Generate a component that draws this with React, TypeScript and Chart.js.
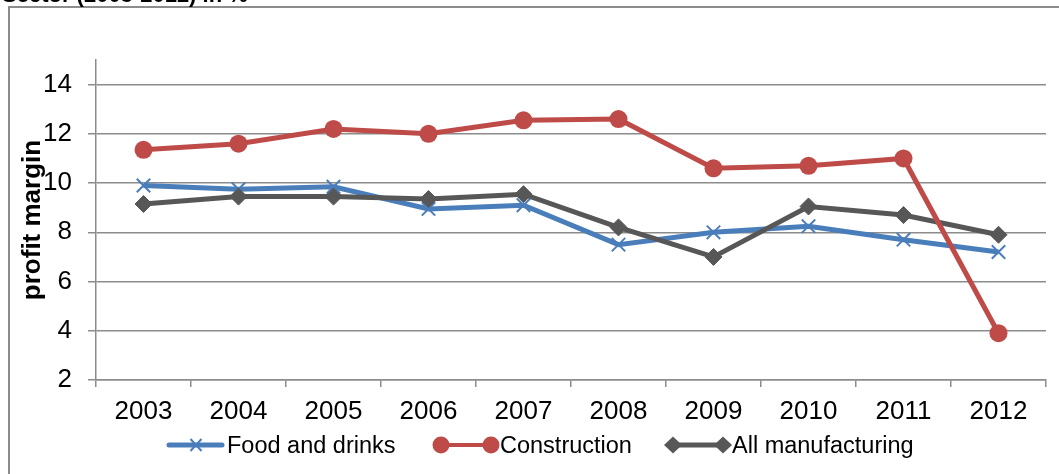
import React, { useEffect, useRef } from 'react';
import { Chart, registerables } from 'chart.js';

Chart.register(...registerables);

const years = ['2003', '2004', '2005', '2006', '2007', '2008', '2009', '2010', '2011', '2012'];
const foodDrinks = [9.9, 9.75, 9.85, 8.95, 9.1, 7.5, 8.0, 8.25, 7.7, 7.2];
const construction = [11.35, 11.6, 12.2, 12.0, 12.55, 12.6, 10.6, 10.7, 11.0, 3.9];
const allManufacturing = [9.15, 9.45, 9.45, 9.35, 9.55, 8.2, 7.0, 9.05, 8.7, 7.9];
const yTicks = [2, 4, 6, 8, 10, 12, 14];
const seriesNames = ['Food and drinks', 'Construction', 'All manufacturing'];
const yAxisTitle = 'profit margin';
const chartTitle = 'Sector (2003-2012) in %';

const FONT = '"Liberation Sans", Arial, sans-serif';
const GRID = '#8c8c8c';
const BLUE = '#4a7ebb';
const RED = '#be4b48';
const GRAY = '#575757';

const decorPlugin = {
  id: 'decor',
  beforeDraw(chart: any) {
    const ctx = chart.ctx as CanvasRenderingContext2D;
    ctx.save();
    ctx.fillStyle = '#ffffff';
    ctx.fillRect(0, 0, chart.width, chart.height);
    ctx.strokeStyle = GRID;
    ctx.lineWidth = 2;
    ctx.beginPath();
    ctx.moveTo(9, chart.height + 2);
    ctx.lineTo(9, 7);
    ctx.lineTo(chart.width + 2, 7);
    ctx.stroke();
    ctx.fillStyle = '#000';
    ctx.font = `bold 22px ${FONT}`;
    ctx.textBaseline = 'alphabetic';
    ctx.textAlign = 'left';
    ctx.fillText(chartTitle, 2, 2);
    ctx.restore();
  },
  afterDraw(chart: any) {
    const ctx = chart.ctx as CanvasRenderingContext2D;
    const y = 445;
    ctx.save();
    ctx.lineCap = 'round';
    // Food and drinks
    ctx.strokeStyle = BLUE;
    ctx.lineWidth = 5;
    ctx.beginPath();
    ctx.moveTo(169, y);
    ctx.lineTo(222, y);
    ctx.stroke();
    ctx.lineWidth = 2;
    ctx.lineCap = 'butt';
    ctx.beginPath();
    ctx.moveTo(190.5, y - 6);
    ctx.lineTo(201.5, y + 6);
    ctx.moveTo(201.5, y - 6);
    ctx.lineTo(190.5, y + 6);
    ctx.stroke();
    // Construction
    ctx.strokeStyle = RED;
    ctx.fillStyle = RED;
    ctx.lineWidth = 4;
    ctx.beginPath();
    ctx.moveTo(441, y);
    ctx.lineTo(491, y);
    ctx.stroke();
    [441, 491].forEach((cx) => {
      ctx.beginPath();
      ctx.arc(cx, y, 8.5, 0, Math.PI * 2);
      ctx.fill();
    });
    // All manufacturing
    ctx.strokeStyle = GRAY;
    ctx.fillStyle = GRAY;
    ctx.lineWidth = 5;
    ctx.beginPath();
    ctx.moveTo(673, y);
    ctx.lineTo(723, y);
    ctx.stroke();
    [673, 723].forEach((cx) => {
      ctx.beginPath();
      ctx.moveTo(cx - 9, y);
      ctx.lineTo(cx, y - 8.5);
      ctx.lineTo(cx + 9, y);
      ctx.lineTo(cx, y + 8.5);
      ctx.closePath();
      ctx.fill();
    });
    // texts
    ctx.fillStyle = '#000';
    ctx.font = `23.5px ${FONT}`;
    ctx.textBaseline = 'alphabetic';
    ctx.textAlign = 'left';
    ctx.fillText(seriesNames[0], 227, 453);
    ctx.fillText(seriesNames[1], 500, 453);
    ctx.fillText(seriesNames[2], 732, 453);
    ctx.restore();
  },
};

export default function App() {
  const ref = useRef<HTMLCanvasElement | null>(null);

  useEffect(() => {
    if (!ref.current) return;
    const chart = new Chart(ref.current, {
      type: 'line',
      data: {
        labels: years,
        datasets: [
          {
            label: seriesNames[0],
            data: foodDrinks,
            borderColor: BLUE,
            backgroundColor: BLUE,
            borderWidth: 5,
            pointStyle: 'crossRot',
            pointRadius: 9.5,
            pointBorderWidth: 2,
            pointBorderColor: BLUE,
            tension: 0,
            order: 3,
          },
          {
            label: seriesNames[1],
            data: construction,
            borderColor: RED,
            backgroundColor: RED,
            borderWidth: 5,
            pointStyle: 'circle',
            pointRadius: 9,
            pointBorderWidth: 0,
            pointBackgroundColor: RED,
            tension: 0,
            order: 1,
          },
          {
            label: seriesNames[2],
            data: allManufacturing,
            borderColor: GRAY,
            backgroundColor: GRAY,
            borderWidth: 5,
            pointStyle: 'rectRot',
            pointRadius: 8.5,
            pointBorderWidth: 1,
            pointBackgroundColor: GRAY,
            tension: 0,
            order: 2,
          },
        ],
      },
      options: {
        animation: false,
        responsive: false,
        devicePixelRatio: 1,
        layout: { padding: { top: 60, right: 13, left: 0, bottom: 0 } },
        plugins: {
          legend: { display: false },
          title: { display: false },
          tooltip: { enabled: false },
        },
        scales: {
          x: {
            type: 'category',
            offset: true,
            grid: {
              display: true,
              drawOnChartArea: false,
              drawTicks: true,
              tickLength: 7,
              offset: true,
              color: GRID,
              lineWidth: 1.5,
            },
            border: { display: true, color: GRID, width: 1.5 },
            ticks: {
              color: '#000',
              font: { family: FONT, size: 26 },
              padding: 9,
              maxRotation: 0,
              autoSkip: false,
            },
            afterFit: (s: any) => {
              s.height = 94;
            },
          },
          y: {
            min: 2,
            max: 15,
            afterBuildTicks: (s: any) => {
              s.ticks = yTicks.map((v) => ({ value: v }));
            },
            grid: { color: GRID, lineWidth: 1.5, tickLength: 8, drawTicks: true },
            border: { display: true, color: GRID, width: 1.5 },
            ticks: {
              color: '#000',
              font: { family: FONT, size: 26 },
              padding: 16,
            },
            title: {
              display: true,
              text: yAxisTitle,
              color: '#000',
              font: { family: FONT, size: 26, weight: 'bold' },
              padding: { top: 17, bottom: 0 },
            },
            afterFit: (s: any) => {
              s.width = 96;
            },
          },
        },
      },
      plugins: [decorPlugin],
    } as any);
    return () => chart.destroy();
  }, []);

  return (
    <div style={{ position: 'fixed', left: 0, top: 0, width: 1059, height: 474, background: '#fff' }}>
      <canvas ref={ref} width={1059} height={474} style={{ display: 'block', width: 1059, height: 474 }} />
    </div>
  );
}
